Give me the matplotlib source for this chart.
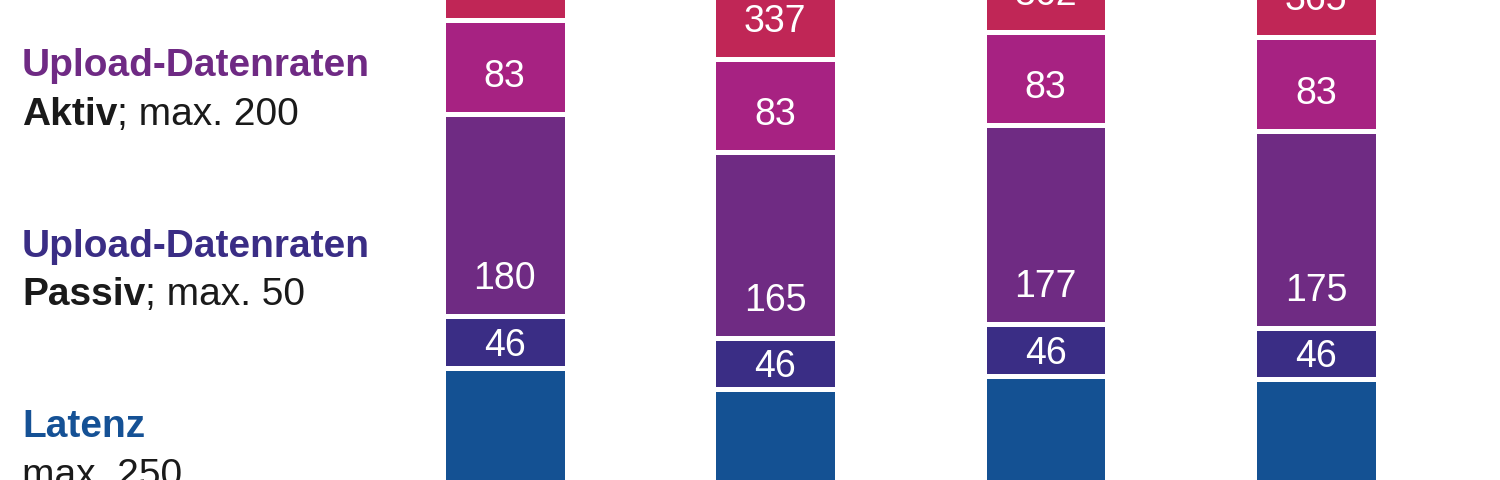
import matplotlib
matplotlib.use("Agg")
import matplotlib.pyplot as plt

plt.rcParams['font.family'] = ['Liberation Sans', 'DejaVu Sans']

# ---- data ----
categories = ["A", "B", "C", "D"]
latenz = [212, 193, 205, 202]
upload_passiv = [46, 46, 46, 46]
upload_aktiv = [180, 165, 177, 175]
segment_83 = [83, 83, 83, 83]
segment_top = [340, 337, 362, 365]

series = [latenz, upload_passiv, upload_aktiv, segment_83, segment_top]
show_label = [False, True, True, True, True]
colors = ["#145193", "#3a2d85", "#6f2b83", "#a72282", "#c02656"]

fig = plt.figure(figsize=(15, 4.8), dpi=100)
ax = fig.add_axes([0, 0, 1, 1])
ax.set_axis_off()

x = list(range(len(categories)))
bottom = [0.0] * len(categories)
for vals, col, lab in zip(series, colors, show_label):
    ax.bar(x, vals, bottom=bottom, width=0.458, color=col,
           edgecolor="white", linewidth=3.6)
    if lab:
        for i, v in enumerate(vals):
            ypos = bottom[i] + min(24, v / 2 - 12)
            ax.text(x[i], ypos, f"{v}", ha="center", va="baseline",
                    color="white", fontsize=27, clip_on=True)
    bottom = [b + v for b, v in zip(bottom, vals)]

ax.set_xlim(-1.8665, 3.6808)
ax.set_ylim(112.5, 539.2)

# ---- left labels ----
W, H = 1500, 480
fs = 28
def ytop(px):
    return 1 - px / H

x0 = 22 / W
fig.text(x0, ytop(76), "Upload-Datenraten", color="#6f2a84", fontsize=fs,
         fontweight="bold", va="baseline")
fig.text(x0, ytop(257), "Upload-Datenraten", color="#3a2d85", fontsize=fs,
         fontweight="bold", va="baseline")
fig.text(x0, ytop(437), "Latenz", color="#155195", fontsize=fs,
         fontweight="bold", va="baseline")

pairs = [("Aktiv", "; max. 200", 125), ("Passiv", "; max. 50", 305)]
bold_texts = []
for b, r, y in pairs:
    t = fig.text(x0, ytop(y), b, color="#1a1a1a", fontsize=fs,
                 fontweight="bold", va="baseline")
    bold_texts.append((t, r, y))
fig.text(x0, ytop(486), "max. 250", color="#1a1a1a", fontsize=fs,
         va="baseline")

fig.canvas.draw()
renderer = fig.canvas.get_renderer()
for t, r, y in bold_texts:
    bb = t.get_window_extent(renderer)
    fig.text(bb.x1 / W, ytop(y), r, color="#1a1a1a", fontsize=fs,
             va="baseline")

fig.savefig("out.png", dpi=100)
